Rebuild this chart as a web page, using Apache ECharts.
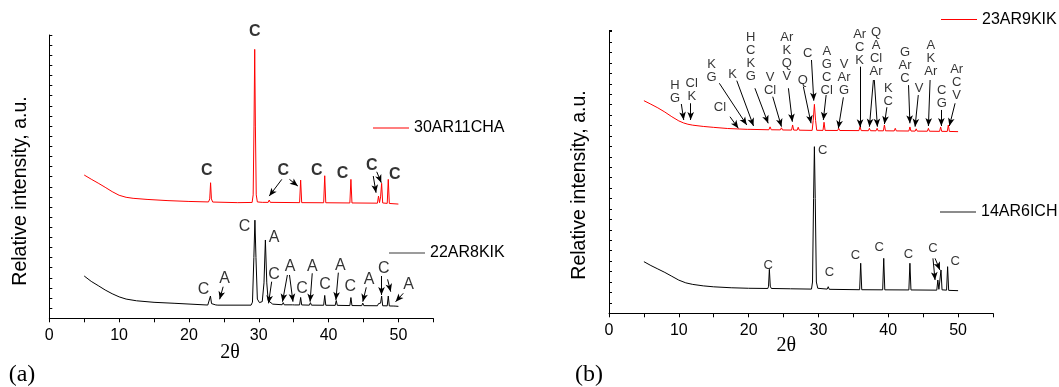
<!DOCTYPE html>
<html>
<head>
<meta charset="utf-8">
<script src="https://cdn.jsdelivr.net/npm/echarts@6/dist/echarts.min.js"></script>
<style>
  html, body { margin: 0; padding: 0; background: #fff; }
  #xrd { width: 1059px; height: 387px; }
</style>
</head>
<body>
<div id="xrd"></div>
<script>
  // tick labels of the 2θ axis
  var twoThetaTicks = [0, 10, 20, 30, 40, 50];
  var sampleNames = ['30AR11CHA', '22AR8KIK', '23AR9KIK', '14AR6ICH'];

  // panel (a), [2θ, intensity a.u.]
  var a30AR11CHA = [[5,141.6],[6,137.5],[7,133.6],[8,129.5],[9,125.2],[10,121.6],[11,119.6],[12,118.6],[14,117.5],[17,116.3],[20,115.5],
    [22.8,115],[22.98,118],[23.1,134],[23.22,118],[23.4,114.9],[27,114.3],[29.05,114.5],[29.2,122],[29.32,190],[29.42,265.8],[29.52,190],
    [29.64,122],[29.8,115],[30.5,114.6],[31.35,114.6],[31.5,116.9],[31.65,114.6],[35.85,114.3],[36.0,136.6],[36.15,114.3],[39.3,114.2],
    [39.45,140.9],[39.6,114.2],[43.05,114],[43.2,137.3],[43.35,114],[47.0,113.8],[47.15,120.8],[47.3,114.3],[47.45,120],[47.6,133.4],
    [47.75,114],[48.4,113.6],[48.55,137.3],[48.7,113.5],[50,112.9]];
  var a22AR8KIK = [[5,41.8],[6,36.5],[7,32.3],[8,28],[9,24.3],[10,21.2],[11,19],[12.5,17.3],[15,15.8],[18,14.8],[22.7,13.1],[22.92,14.5],
    [23.08,22],[23.24,14.5],[23.5,13.1],[23.85,13.2],[24.0,15],[24.15,13],[28.9,13],[29.1,16],[29.3,60],[29.45,97],[29.6,60],[29.8,19],
    [30.1,15.5],[30.5,16.5],[30.75,35],[30.95,77.4],[31.15,35],[31.35,17.5],[31.55,16.5],[32,14],[33.35,13.4],[33.5,15.5],[33.65,13.3],
    [34.85,13.3],[35.0,15],[35.15,13.2],[35.85,13.2],[36.0,20.6],[36.15,13.2],[37.25,13],[37.4,15.5],[37.55,13],[39.3,12.9],[39.45,22.6],
    [39.6,12.9],[40.95,12.8],[41.1,17.6],[41.25,12.8],[43.05,12.6],[43.2,20.5],[43.35,12.6],[44.75,12.5],[44.9,15],[45.05,12.5],[47.0,12.4],
    [47.15,14.5],[47.3,12.6],[47.45,15],[47.6,22],[47.75,12.4],[48.4,12.3],[48.55,22],[48.7,12.2],[49.35,12.1],[49.5,13.8],[49.65,12],[50,11.8]];

  // panel (b)
  var b23AR9KIK = [[5,203.9],[6,200.5],[7,197],[8,193],[9,188.5],[10,184.5],[10.7,182.5],[11.3,181.3],[12,180.4],[13.5,179.2],[15,178.3],[17,177.2],
    [19.8,176.4],[20.0,178],[20.2,176.4],[22.9,176],[23.07,178.8],[23.24,176],[24.55,175.9],[24.7,177.9],[24.85,175.8],[26.15,175.7],[26.3,180.6],
    [26.45,175.7],[26.95,175.6],[27.1,178.4],[27.25,175.6],[29.1,175.4],[29.25,185],[29.42,200.4],[29.59,185],[29.75,175.5],[30.65,175.4],
    [30.8,183.2],[30.95,175.4],[32.75,175.3],[32.9,177.4],[33.05,175.3],[35.8,175.2],[35.96,179],[36.12,175.2],[37.15,175.1],[37.3,177.4],
    [37.45,175.1],[38.25,175],[38.4,177.4],[38.55,175],[39.3,175],[39.45,180.6],[39.6,175],[40.85,174.9],[41.0,177.4],[41.15,174.9],
    [42.95,174.8],[43.1,178.7],[43.25,174.8],[43.85,174.7],[44.0,176.9],[44.15,174.7],[45.6,174.6],[45.75,177.4],[45.9,174.6],[47.35,174.5],
    [47.5,178.7],[47.65,174.5],[48.45,174.4],[48.6,180.6],[48.75,174.4],[50,174.2]];
  var b14AR6ICH = [[5,49.5],[6,45.8],[7,42.5],[8,39.2],[9,35.5],[10,31.8],[11,29.2],[12,27.7],[13.5,26.3],[15,25.4],[17.5,24.5],[20,24],
    [22.75,23.8],[22.85,26],[22.97,42.2],[23.1,26],[23.25,23.8],[26,23.5],[29.0,23.2],[29.15,30],[29.3,110],[29.42,159.8],[29.54,110],
    [29.7,30],[29.9,24],[31.25,23.2],[31.4,25.5],[31.55,23],[35.9,22.6],[36.05,48],[36.2,22.6],[39.2,22.5],[39.35,52.7],[39.5,22.5],
    [42.95,22.4],[43.1,48],[43.25,22.4],[46.95,22.2],[47.1,31.9],[47.25,23],[47.4,23.5],[47.55,41.5],[47.7,22.5],[48.35,22.2],[48.5,44.7],
    [48.65,22],[50,21.7]];

  // phase labels [text, 2θ, intensity] and arrows [from 2θ, from I, to 2θ, to I]
  var phasesA30 = [['C',29.43,283.2],['C',22.55,145.8],['C',33.5,145.8],['C',38.3,145.8],['C',42.0,143.3],['C',46.2,150.5],['C',49.5,141.6]];
  var arrowsA30 = [[33.3,137.3,31.5,120.8],[34.4,137.3,35.6,130.7],[46.4,140.6,46.8,124.1],[46.9,144.8,47.55,134]];
  var phasesA22 = [['C',27.98,90.5],['A',32.2,80],['C',22.1,28.7],['A',25.1,39.5],['C',32.2,42.8],['A',34.5,51],['C',36.2,29.6],
    ['A',37.66,51],['C',39.5,33.6],['A',41.7,52],['C',43.1,31.2],['A',45.8,37.8],['C',47.9,49.4],['A',51.45,33.6]];
  var arrowsA22 = [[24.9,31.2,24.4,18.8],[31.85,36.2,31.4,14.8],[34.1,42.8,33.4,16.4],[34.4,42.8,34.9,16.4],[37.66,44.5,37.35,16.4],
    [41.4,45.1,41.05,18.1],[45.4,30.6,44.9,16.4],[47.58,41.8,47.58,23],[48.45,38.5,48.9,26.3],[50.7,24.7,49.6,16.4]];
  var phasesB23 = [['H\nG',9.46,212.5],['Cl\nK',11.85,214.1],['Cl',15.9,197.6],['K\nG',14.7,232.6],['K',17.7,229.5],['H\nC\nK\nG',20.3,246.1],
    ['V\nCl',23.07,220.2],['Ar\nK\nQ\nV',25.46,246.1],['Q',27.75,223.5],['C',28.46,249.3],['A\nG\nC\nCl',31.19,232.8],['V\nAr\nG',33.67,226.6],
    ['Ar\nC\nK',35.9,254.9],['Q\nA\nCl\nAr',38.25,250.9],['K\nC',40.0,209.3],['G\nAr\nC',42.4,237.6],['V',44.4,215.8],['A\nK\nAr',46.1,244.4],
    ['C\nG',47.66,207.7],['Ar\nC\nV',49.8,221.6]];
  var arrowsB23 = [[10.36,200.7,10.7,185.4],[11.7,201.4,11.7,185.4],[17.33,188.5,18.52,177.4],[15.8,220.6,19.73,180.6],[18.3,223.1,20.7,179.6],
    [20.9,215.8,22.8,182.2],[23.45,207.7,24.7,179],[25.7,215.8,26.26,183.7],[27.84,217.3,28.94,182.2],[29.0,242.9,29.33,203.9],
    [31.1,209.3,30.7,185.4],[33.57,207.1,32.85,177.4],[35.96,236.5,35.96,178.4],[37.87,223.7,37.3,179],[38.0,223.7,38.44,179],
    [39.8,197.6,39.45,181.5],[42.9,218.8,43.1,182.2],[44.3,209.3,43.84,179],[45.99,223.7,45.75,179.6],[47.6,195,47.6,179.6],[49.57,201.4,48.75,179.6]];
  var phasesB14 = [['C',22.8,46.3],['C',30.6,155.9],['C',31.57,38.9],['C',35.3,55.9],['C',38.7,63.3],['C',42.9,56.9],['C',46.4,62.3],['C',49.6,50.2]];
  var arrowsB14 = [[46.4,52.7,46.7,31.9],[46.7,52.7,47.4,41.5]];

  var font = '"Liberation Sans", Arial, sans-serif';
  var serif = '"Liberation Serif", "Times New Roman", serif';

  function xAxisOf(idx) {
    return {
      gridIndex: idx, type: 'value', min: 0, max: 55, interval: 5,
      axisLine: { lineStyle: { color: '#000', width: 1 } },
      axisTick: { length: 4, lineStyle: { color: '#000' } },
      axisLabel: {
        color: '#000', fontSize: 16, fontFamily: font, margin: 9,
        formatter: function (v) { return twoThetaTicks.indexOf(v) >= 0 ? String(v) : ''; }
      },
      splitLine: { show: false }
    };
  }
  function yAxisOf(idx, max) {
    return {
      gridIndex: idx, type: 'value', min: 0, max: max, interval: 10,
      axisLine: { show: true, lineStyle: { color: '#000', width: 1 } },
      axisTick: { show: true, inside: true, length: 3, lineStyle: { color: '#000' } },
      axisLabel: { show: false },
      splitLine: { show: false }
    };
  }
  function trace(name, data, idx, color) {
    return {
      name: name, type: 'line', xAxisIndex: idx, yAxisIndex: idx, data: data,
      symbol: 'none', silent: true, z: 2,
      lineStyle: { color: color, width: 1 }, itemStyle: { color: color }
    };
  }
  function notes(labels, arrows, idx, size, weight) {
    return {
      type: 'scatter', xAxisIndex: idx, yAxisIndex: idx, clip: false, silent: true, z: 5,
      symbolSize: 1, itemStyle: { color: 'rgba(0,0,0,0)' },
      data: labels.map(function (l) { return { name: l[0], value: [l[1], l[2]] }; }),
      label: {
        show: true, position: 'inside', formatter: '{b}', color: '#000',
        fontSize: size, fontWeight: weight, fontFamily: font, lineHeight: size
      },
      markLine: {
        silent: true, animation: false, symbol: ['none', 'arrow'], symbolSize: [5, 8],
        label: { show: false }, lineStyle: { color: '#000', width: 1, type: 'solid' },
        data: arrows.map(function (a) { return [{ coord: [a[0], a[1]] }, { coord: [a[2], a[3]] }]; })
      }
    };
  }
  function legendAt(name, left, top, color) {
    return {
      data: [name], left: left, top: top, padding: 0, selectedMode: false,
      icon: 'rect', itemWidth: 36, itemHeight: 1.2, itemStyle: { color: color },
      textStyle: { fontSize: 16, color: '#000', fontFamily: font, lineHeight: 16 }
    };
  }
  function caption(text, x, y, f, rot) {
    return {
      type: 'text', x: x, y: y, rotation: rot || 0, silent: true,
      style: { text: text, font: f, fill: '#000', align: 'center', verticalAlign: 'middle' }
    };
  }

  var chart = echarts.init(document.getElementById('xrd'));
  chart.setOption({
    animation: false,
    grid: [
      { left: 49.3, top: 35, width: 384, height: 283.3 },
      { left: 609, top: 30.7, width: 384, height: 282.6 }
    ],
    xAxis: [xAxisOf(0), xAxisOf(1)],
    yAxis: [yAxisOf(0, 280), yAxisOf(1, 271)],
    legend: [
      legendAt(sampleNames[0], 373, 120, '#ff0000'),
      legendAt(sampleNames[1], 389, 245, '#3a3a3a'),
      legendAt(sampleNames[2], 941, 11.5, '#ff0000'),
      legendAt(sampleNames[3], 940, 204, '#1a1a1a')
    ],
    graphic: [
      caption('Relative intensity, a.u.', 20.7, 191, '19.5px ' + font, Math.PI / 2),
      caption('Relative intensity, a.u.', 579.3, 185, '19.5px ' + font, Math.PI / 2),
      caption('2θ', 230, 352.5, '20px ' + serif),
      caption('2θ', 786.3, 345.5, '20px ' + serif),
      caption('(a)', 22, 375, '24px ' + serif),
      caption('(b)', 589, 375, '24px ' + serif)
    ],
    series: [
      trace(sampleNames[0], a30AR11CHA, 0, '#ff0000'),
      trace(sampleNames[1], a22AR8KIK, 0, '#000000'),
      trace(sampleNames[2], b23AR9KIK, 1, '#ff0000'),
      trace(sampleNames[3], b14AR6ICH, 1, '#000000'),
      notes(phasesA30, arrowsA30, 0, 16, 'bold'),
      notes(phasesA22, arrowsA22, 0, 16, 'normal'),
      notes(phasesB23, arrowsB23, 1, 13, 'normal'),
      notes(phasesB14, arrowsB14, 1, 13, 'normal')
    ]
  });
</script>
</body>
</html>
